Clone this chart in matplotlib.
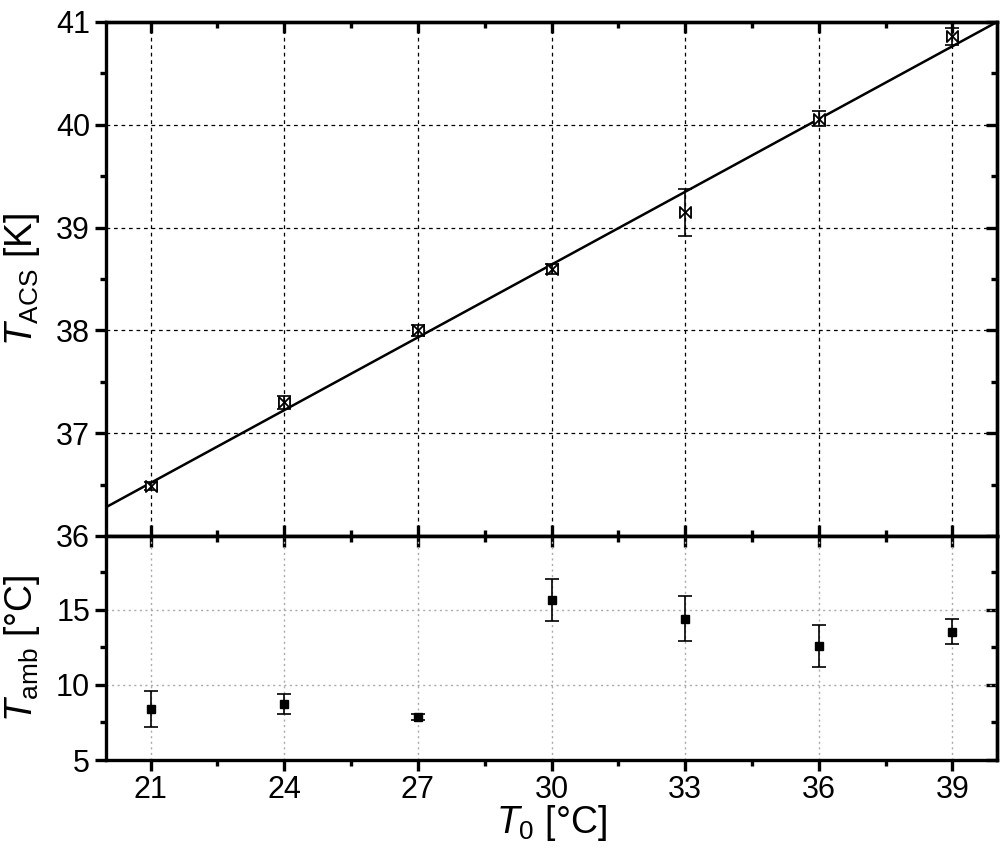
import matplotlib.pyplot as plt
from matplotlib.path import Path

plt.rcParams['font.family'] = ['Liberation Sans', 'DejaVu Sans']
plt.rcParams['mathtext.fontset'] = 'custom'
plt.rcParams['mathtext.rm'] = 'Liberation Sans'
plt.rcParams['mathtext.it'] = 'Liberation Sans:italic'

# === DATA ===
t0 = [21, 24, 27, 30, 33, 36, 39]
t_acs = [36.49, 37.30, 38.00, 38.60, 39.15, 40.06, 40.86]
t_acs_err = [0.04, 0.06, 0.05, 0.05, 0.23, 0.07, 0.08]
fit_x = [20, 40]
fit_y = [36.28, 41.0]
t_amb = [8.4, 8.73, 7.85, 15.67, 14.4, 12.6, 13.55]
t_amb_err = [1.2, 0.65, 0.2, 1.4, 1.5, 1.4, 0.85]

# bowtie marker
bowtie = Path([(-1, -1), (1, 1), (1, -1), (-1, 1), (-1, -1)],
              [Path.MOVETO, Path.LINETO, Path.LINETO, Path.LINETO, Path.CLOSEPOLY])

fig = plt.figure(figsize=(10, 8.55), dpi=100)
ax1 = fig.add_axes([0.106, 0.3731, 0.891, 0.6012])
ax2 = fig.add_axes([0.106, 0.1111, 0.891, 0.262], sharex=ax1)

SPW = 2.4
TICK_FS = 22
LABEL_FS = 27

# --- top panel ---
ax1.plot(fit_x, fit_y, color='black', linewidth=1.8, zorder=3)
ax1.errorbar(t0, t_acs, yerr=t_acs_err, fmt='none', ecolor='black',
             elinewidth=1.2, capsize=5, capthick=1.2, zorder=4)
ax1.plot(t0, t_acs, linestyle='none', marker=bowtie, markersize=8,
         markerfacecolor='white', markeredgecolor='black', markeredgewidth=1.3, zorder=5)
ax1.set_ylim(36, 41)
ax1.set_yticks([36, 37, 38, 39, 40, 41])
ax1.set_yticks([36.5, 37.5, 38.5, 39.5, 40.5], minor=True)
ax1.grid(True, which='major', color='black', linestyle=(0, (3, 3)), linewidth=0.9)
ax1.set_ylabel(r'$T_{\mathrm{ACS}}$ [K]', fontsize=LABEL_FS, labelpad=10)
ax1.tick_params(axis='x', which='both', bottom=True, top=False, labelbottom=False, direction='in')
ax1.tick_params(axis='x', which='major', length=8, width=SPW)
ax1.tick_params(axis='x', which='minor', length=4, width=SPW)

# --- bottom panel ---
ax2.errorbar(t0, t_amb, yerr=t_amb_err, fmt='none', ecolor='black',
             elinewidth=1.2, capsize=5, capthick=1.2, zorder=4)
ax2.plot(t0, t_amb, linestyle='none', marker='s', markersize=6,
         color='black', zorder=5)
ax2.set_ylim(5, 19.93)
ax2.set_yticks([5, 10, 15])
ax2.set_yticks([7.5, 12.5, 17.5], minor=True)
ax2.grid(True, which='major', color='#aaaaaa', linestyle=(0, (1.5, 2.5)), linewidth=1.0)
ax2.set_ylabel(r'$T_{\mathrm{amb}}$ [°C]', fontsize=LABEL_FS, labelpad=10)
ax2.set_xlabel(r'$T_0$ [°C]', fontsize=LABEL_FS, labelpad=-2)

ax1.set_xlim(20, 40)
ax2.set_xticks(t0)
ax2.set_xticks([22.5, 25.5, 28.5, 31.5, 34.5, 37.5], minor=True)
ax2.tick_params(axis='x', which='both', direction='out', labelsize=TICK_FS, pad=3)
ax2.tick_params(axis='x', which='major', length=8, width=SPW)
ax2.tick_params(axis='x', which='minor', length=4, width=SPW)

for ax in (ax1, ax2):
    for sp in ax.spines.values():
        sp.set_linewidth(SPW)
    ax.set_axisbelow(True)
    ax.tick_params(axis='y', which='both', direction='out', labelsize=TICK_FS)
    ax.tick_params(axis='y', which='major', length=8, width=SPW)
    ax.tick_params(axis='y', which='minor', length=4, width=SPW)
    # inward ticks on the right side
    sec = ax.secondary_yaxis('right')
    sec.set_yticks(ax.get_yticks())
    sec.set_yticks(ax.get_yticks(minor=True), minor=True)
    sec.tick_params(axis='y', which='both', direction='in', labelright=False, width=SPW)
    sec.tick_params(axis='y', which='major', length=8)
    sec.tick_params(axis='y', which='minor', length=4)
    sec.spines['right'].set_linewidth(SPW)

# inward ticks on the top of the top panel and the top of the bottom panel
for ax in (ax1, ax2):
    secx = ax.secondary_xaxis('top')
    secx.set_xticks(t0)
    secx.set_xticks([22.5, 25.5, 28.5, 31.5, 34.5, 37.5], minor=True)
    secx.tick_params(axis='x', which='both', direction='in', labeltop=False, width=SPW)
    secx.tick_params(axis='x', which='major', length=8)
    secx.tick_params(axis='x', which='minor', length=4)
    secx.spines['top'].set_linewidth(SPW)

fig.align_ylabels([ax1, ax2])
plt.savefig('out.png', dpi=100)
